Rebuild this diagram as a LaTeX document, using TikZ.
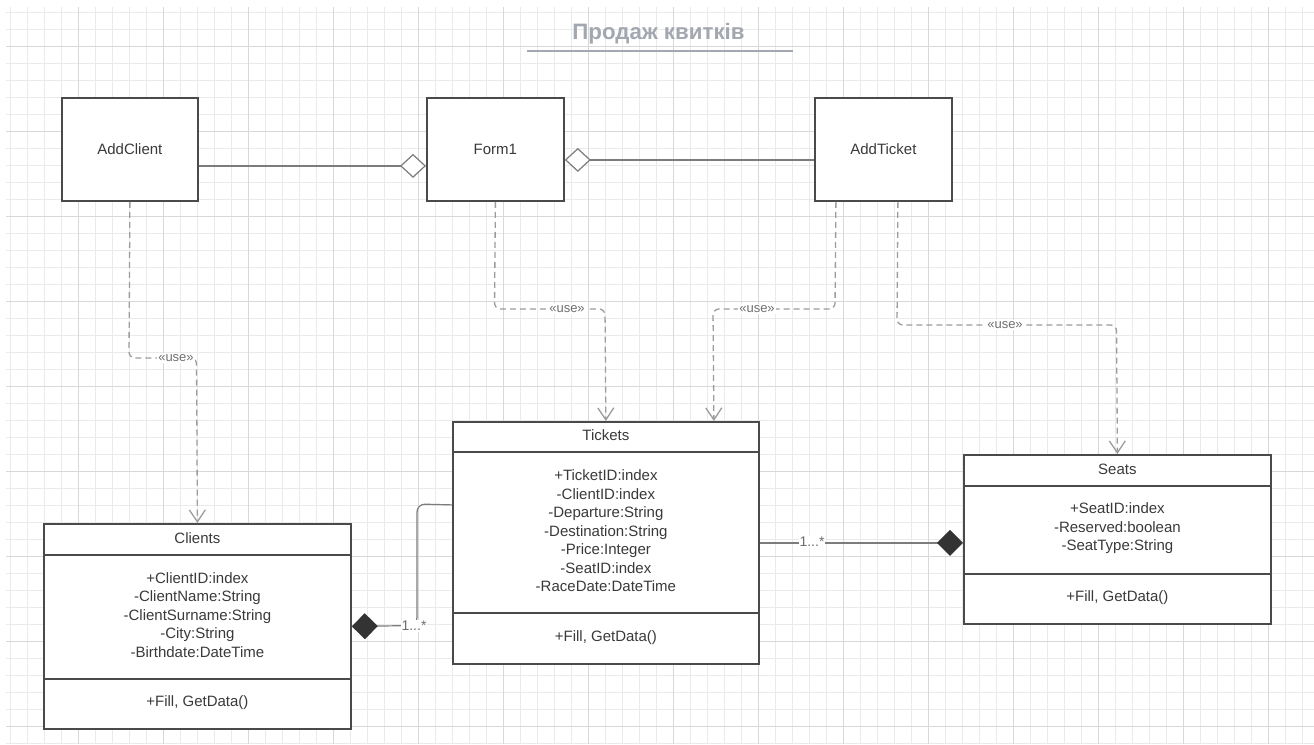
\documentclass[tikz,border=0pt]{standalone}
\usepackage{fontspec}
\setmainfont{Liberation Sans}
\usetikzlibrary{arrows.meta,calc}
\definecolor{gridminor}{HTML}{EAEAEA}
\definecolor{gridmajor}{HTML}{D8D8D8}
\definecolor{boxline}{HTML}{4A4A4A}
\definecolor{txt}{HTML}{3A3A3A}
\definecolor{conn}{HTML}{7C7C7C}
\definecolor{dashc}{HTML}{9C9C9C}
\definecolor{lblc}{HTML}{6E6E6E}
\definecolor{titlec}{HTML}{A3A8B0}
\definecolor{diam}{HTML}{333333}
\begin{document}
\begin{tikzpicture}[x=1pt,y=-1pt,
  box/.style={draw=boxline, line width=1.8pt, fill=white, inner sep=0pt, anchor=north west},
  divider/.style={draw=boxline, line width=1.8pt},
  lbl/.style={text=txt, font=\fontsize{15}{18.5}\selectfont, inner sep=0pt, align=center},
  usecon/.style={draw=dashc, line width=1.3pt, dash pattern=on 6pt off 4pt, rounded corners=6pt,
    -{Straight Barb[length=12pt,width=16pt]}},
  uselbl/.style={fill=white, text=lblc, font=\fontsize{13}{15}\selectfont, inner sep=1pt},
  multlbl/.style={fill=white, text=lblc, font=\fontsize{14}{16}\selectfont, inner sep=1pt},
  aggend/.style={draw=conn, line width=1.2pt, -{Diamond[length=26pt,width=24pt,fill=white]}},
  aggstart/.style={draw=conn, line width=1.2pt, {Diamond[length=26pt,width=24pt,fill=white]}-},
  comp/.style={draw=conn, line width=1.2pt, rounded corners=8pt, -{Diamond[length=26pt,width=26pt,color=diam]}}
]
\useasboundingbox (0,0) rectangle (1314,744);
\fill[white] (0,0) rectangle (1314,744);
% grid
\foreach \x in {10,27,...,1313} \draw[gridminor, line width=0.7pt] (\x,7) -- (\x,744);
\foreach \y in {12,29,...,743} \draw[gridminor, line width=0.7pt] (6,\y) -- (1314,\y);
\foreach \x in {78,163,...,1313} \draw[gridmajor, line width=0.8pt] (\x,7) -- (\x,744);
\foreach \y in {46,131,...,743} \draw[gridmajor, line width=0.8pt] (6,\y) -- (1314,\y);

% title
\node[text=titlec, font=\fontsize{22.3}{26}\selectfont\bfseries, inner sep=0pt, anchor=base] (title) at (658.5,39.5) {Продаж квитків};
\draw[titlec, line width=2pt] (527,50.5) -- (793,50.5);

% top boxes
\node[box, minimum width=136pt, minimum height=103pt] (addclient) at (61,97) {};
\node[lbl] (addclienttxt) at (addclient.center) {AddClient};
\node[box, minimum width=137pt, minimum height=103pt] (form1) at (426,97) {};
\node[lbl] (form1txt) at (form1.center) {Form1};
\node[box, minimum width=137pt, minimum height=103pt] (addticket) at (814,97) {};
\node[lbl] (addtickettxt) at (addticket.center) {AddTicket};

% Clients
\node[box, minimum width=307pt, minimum height=205pt] (clients) at (43,523) {};
\draw[divider] ($(clients.north west)+(0,32)$) -- ($(clients.north east)+(0,32)$);
\draw[divider] ($(clients.north west)+(0,156)$) -- ($(clients.north east)+(0,156)$);
\node[lbl] (clientstitle) at ($(clients.north)+(0,15)$) {Clients};
\node[lbl] (clientsattr) at ($(clients.north)+(0,92)$) {+ClientID:index\\-ClientName:String\\-ClientSurname:String\\-City:String\\-Birthdate:DateTime};
\node[lbl] (clientsmeth) at ($(clients.north)+(0,180)$) {+Fill, GetData()};

% Tickets
\node[box, minimum width=306pt, minimum height=242pt] (tickets) at (452,421) {};
\draw[divider] ($(tickets.north west)+(0,31)$) -- ($(tickets.north east)+(0,31)$);
\draw[divider] ($(tickets.north west)+(0,192)$) -- ($(tickets.north east)+(0,192)$);
\node[lbl] (ticketstitle) at ($(tickets.north)+(0,14)$) {Tickets};
\node[lbl] (ticketsattr) at ($(tickets.north)+(0,110)$) {+TicketID:index\\-ClientID:index\\-Departure:String\\-Destination:String\\-Price:Integer\\-SeatID:index\\-RaceDate:DateTime};
\node[lbl] (ticketsmeth) at ($(tickets.north)+(0,217)$) {+Fill, GetData()};

% Seats
\node[box, minimum width=307pt, minimum height=169pt] (seats) at (963,454) {};
\draw[divider] ($(seats.north west)+(0,32)$) -- ($(seats.north east)+(0,32)$);
\draw[divider] ($(seats.north west)+(0,120)$) -- ($(seats.north east)+(0,120)$);
\node[lbl] (seatstitle) at ($(seats.north)+(0,15)$) {Seats};
\node[lbl] (seatsattr) at ($(seats.north)+(0,74.5)$) {+SeatID:index\\-Reserved:boolean\\-SeatType:String};
\node[lbl] (seatsmeth) at ($(seats.north)+(0,144)$) {+Fill, GetData()};

% aggregation
\draw[aggend] ([yshift=-16.5pt]addclient.east) -- ([yshift=-16.5pt]form1.west);
\draw[aggstart] ([yshift=-10.5pt]form1.east) -- ([yshift=-10.5pt]addticket.west);

% use dependencies
\draw[usecon] (addclient.south) -- (129,358) -- (196.5,358) -- (clients.north);
\node[uselbl] (use1) at (176,358) {«use»};
\draw[usecon] (form1.south) -- (494.5,309) -- (605,309) -- (tickets.north);
\node[uselbl] (use2) at (567,309) {«use»};
\draw[usecon] ([xshift=-47.5pt]addticket.south) -- (835,309) -- (713,309) -- ([xshift=108pt]tickets.north);
\node[uselbl] (use3) at (757,309) {«use»};
\draw[usecon] ([xshift=14.5pt]addticket.south) -- (897,325) -- (1116.5,325) -- (seats.north);
\node[uselbl] (use4) at (1005,325) {«use»};

% compositions
\draw[comp] ([yshift=38pt]tickets.west) -- (417,504) -- (417,625.5) -- (clients.east);
\node[multlbl] (mult1) at (414,626) {1...*};
\draw[comp] (tickets.east) -- (tickets.east -| seats.west);
\node[multlbl] (mult2) at (812,542) {1...*};
\end{tikzpicture}
\end{document}
